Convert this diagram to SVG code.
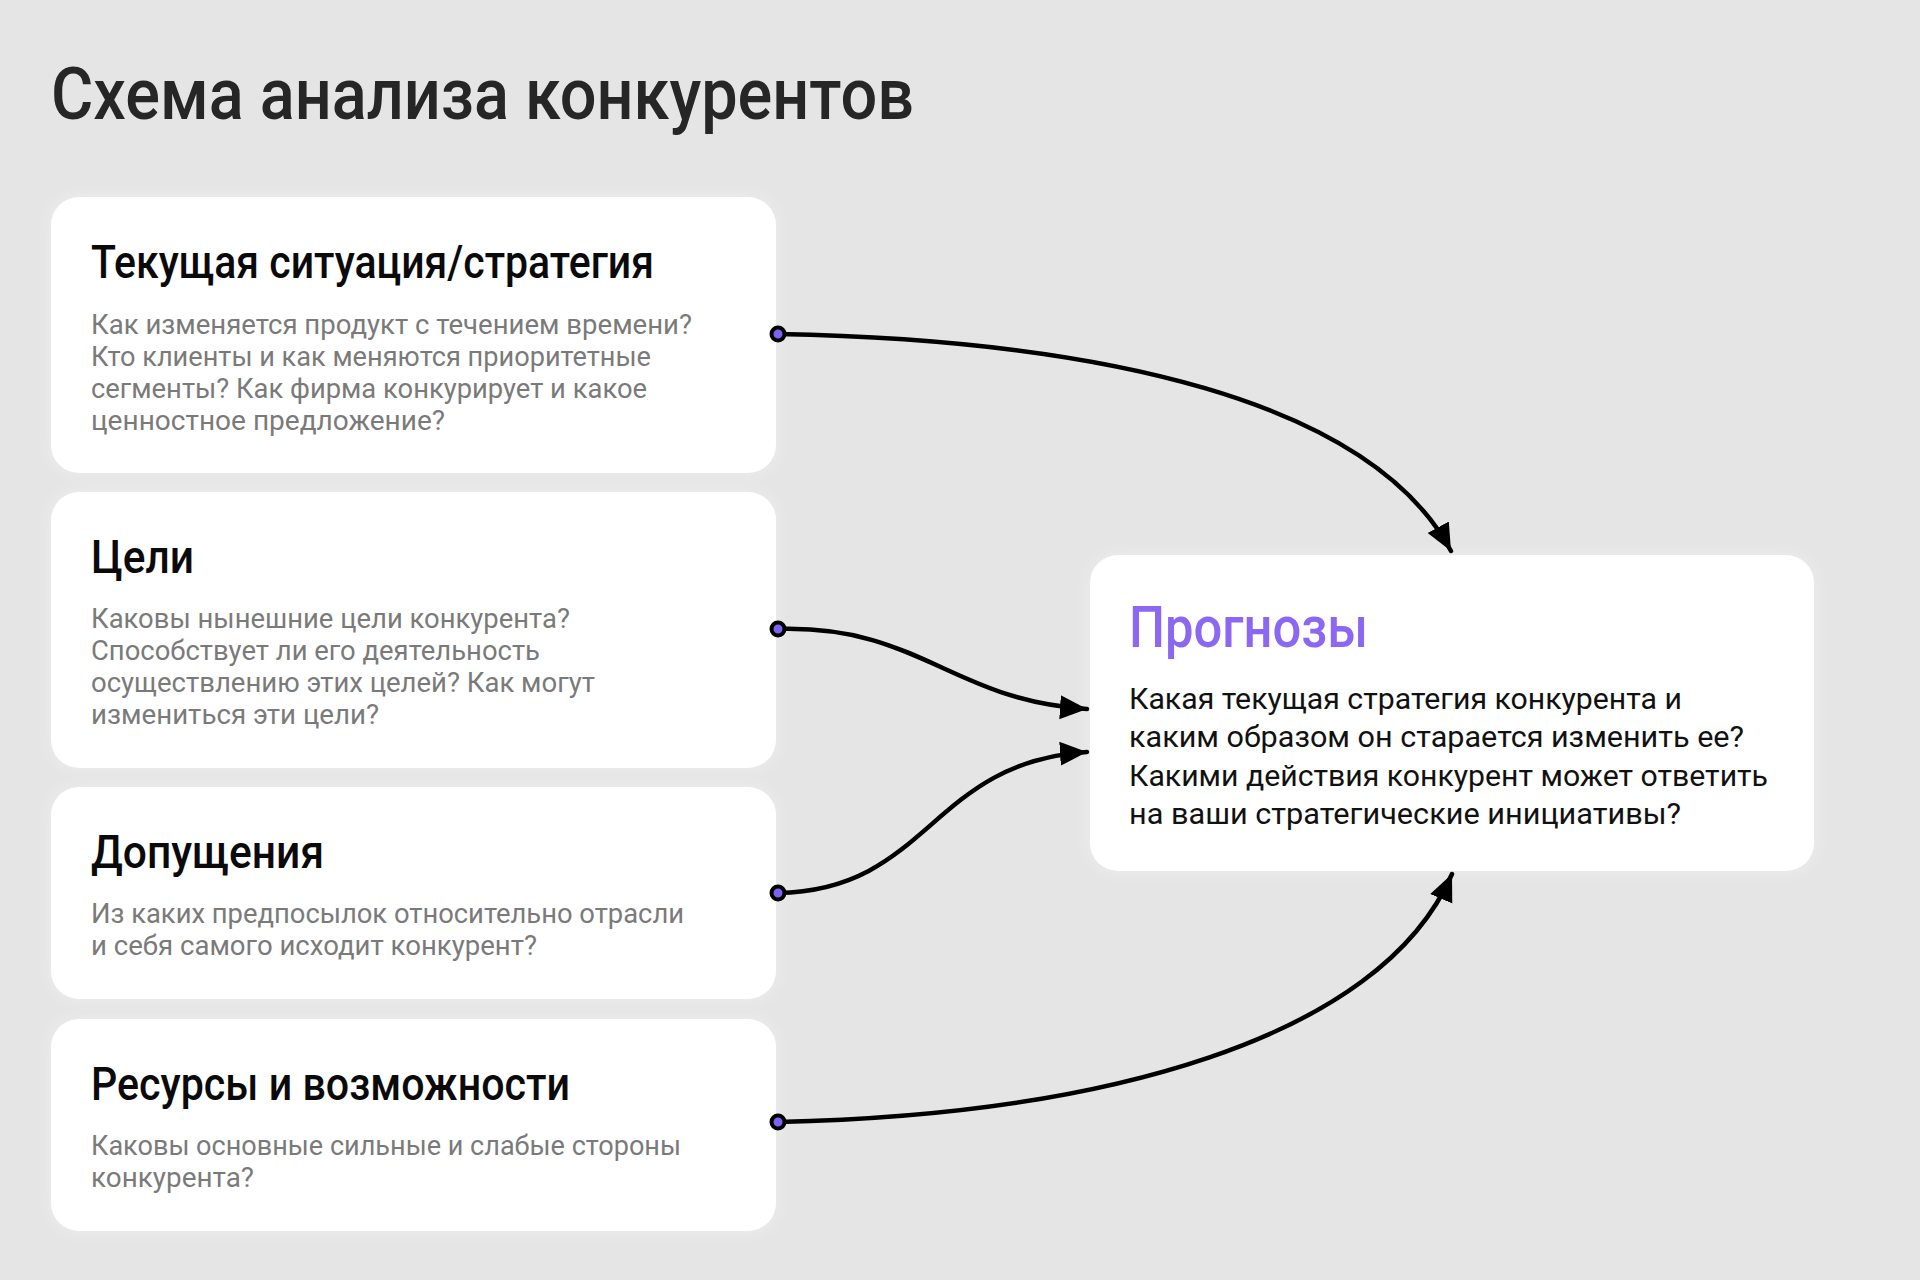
<svg xmlns="http://www.w3.org/2000/svg" width="1920" height="1280" viewBox="0 0 1920 1280">
<style>
.bg{fill:#e5e5e5}
.card{fill:#ffffff}
.title{font-family:"Roboto","Liberation Sans",sans-serif;font-size:72px;font-weight:500;fill:#262626}
.h{font-family:"Roboto","Liberation Sans",sans-serif;font-size:46px;font-weight:500;fill:#0a0a0a}
.b{font-family:"Roboto","Liberation Sans",sans-serif;font-size:28px;font-weight:400;fill:#7a7a7a}
.ph{font-family:"Roboto","Liberation Sans",sans-serif;font-size:57px;font-weight:500;fill:#8b67f2}
.pb{font-family:"Roboto","Liberation Sans",sans-serif;font-size:30px;font-weight:400;fill:#111111}
.edge{fill:none;stroke:#000;stroke-width:4.5;stroke-linecap:round}
.dot{fill:#7f63f0;stroke:#000;stroke-width:4}
</style>
<defs>
<filter id="glow" x="-10%" y="-10%" width="120%" height="120%">
<feGaussianBlur in="SourceAlpha" stdDeviation="8"/>
<feComponentTransfer><feFuncA type="linear" slope="0.35"/></feComponentTransfer>
<feColorMatrix type="matrix" values="0 0 0 0 1  0 0 0 0 1  0 0 0 0 1  0 0 0 1 0"/>
<feMerge><feMergeNode/><feMergeNode in="SourceGraphic"/></feMerge>
</filter>
<marker id="arr" markerUnits="userSpaceOnUse" markerWidth="30" markerHeight="26" refX="27" refY="12" orient="auto">
<path d="M0,0 L27,12 L0,24 z" fill="#000"/>
</marker>
</defs>
<rect class="bg" x="0" y="0" width="1920" height="1280"/>
<text class="title" x="51" y="119" textLength="863" lengthAdjust="spacingAndGlyphs">Схема анализа конкурентов</text>

<g id="node-current">
<rect class="card" filter="url(#glow)" x="51" y="197" width="725" height="276" rx="28"/>
<text class="h" x="91" y="278" textLength="563" lengthAdjust="spacingAndGlyphs">Текущая ситуация/стратегия</text>
<text class="b" x="91" y="334" textLength="601" lengthAdjust="spacingAndGlyphs">Как изменяется продукт с течением времени?</text>
<text class="b" x="91" y="366" textLength="560" lengthAdjust="spacingAndGlyphs">Кто клиенты и как меняются приоритетные</text>
<text class="b" x="91" y="398" textLength="556" lengthAdjust="spacingAndGlyphs">сегменты? Как фирма конкурирует и какое</text>
<text class="b" x="91" y="430" textLength="354" lengthAdjust="spacingAndGlyphs">ценностное предложение?</text>
</g>

<g id="node-goals">
<rect class="card" filter="url(#glow)" x="51" y="492" width="725" height="276" rx="28"/>
<text class="h" x="91" y="573" textLength="103" lengthAdjust="spacingAndGlyphs">Цели</text>
<text class="b" x="91" y="628" textLength="479" lengthAdjust="spacingAndGlyphs">Каковы нынешние цели конкурента?</text>
<text class="b" x="91" y="660" textLength="449" lengthAdjust="spacingAndGlyphs">Способствует ли его деятельность</text>
<text class="b" x="91" y="692" textLength="504" lengthAdjust="spacingAndGlyphs">осуществлению этих целей? Как могут</text>
<text class="b" x="91" y="724" textLength="288" lengthAdjust="spacingAndGlyphs">измениться эти цели?</text>
</g>

<g id="node-assumptions">
<rect class="card" filter="url(#glow)" x="51" y="787" width="725" height="212" rx="28"/>
<text class="h" x="91" y="868" textLength="233" lengthAdjust="spacingAndGlyphs">Допущения</text>
<text class="b" x="91" y="923" textLength="593" lengthAdjust="spacingAndGlyphs">Из каких предпосылок относительно отрасли</text>
<text class="b" x="91" y="955" textLength="446" lengthAdjust="spacingAndGlyphs">и себя самого исходит конкурент?</text>
</g>

<g id="node-resources">
<rect class="card" filter="url(#glow)" x="51" y="1019" width="725" height="212" rx="28"/>
<text class="h" x="91" y="1100" textLength="479" lengthAdjust="spacingAndGlyphs">Ресурсы и возможности</text>
<text class="b" x="91" y="1155" textLength="590" lengthAdjust="spacingAndGlyphs">Каковы основные сильные и слабые стороны</text>
<text class="b" x="91" y="1187" textLength="163" lengthAdjust="spacingAndGlyphs">конкурента?</text>
</g>

<g id="node-forecasts">
<rect class="card" filter="url(#glow)" x="1090" y="555" width="724" height="316" rx="28"/>
<text class="ph" x="1129" y="647" textLength="239" lengthAdjust="spacingAndGlyphs">Прогнозы</text>
<text class="pb" x="1129" y="709" textLength="553" lengthAdjust="spacingAndGlyphs">Какая текущая стратегия конкурента и</text>
<text class="pb" x="1129" y="747" textLength="615" lengthAdjust="spacingAndGlyphs">каким образом он старается изменить ее?</text>
<text class="pb" x="1129" y="786" textLength="639" lengthAdjust="spacingAndGlyphs">Какими действия конкурент может ответить</text>
<text class="pb" x="1129" y="824" textLength="552" lengthAdjust="spacingAndGlyphs">на ваши стратегические инициативы?</text>
</g>

<g id="connectors">
<path class="edge" marker-end="url(#arr)" d="M778,334 C1100,340 1370,400 1451,551"/>
<path class="edge" marker-end="url(#arr)" d="M778,629 C920,625 950,700 1087,709"/>
<path class="edge" marker-end="url(#arr)" d="M778,893 C930,890 930,762 1087,752"/>
<path class="edge" marker-end="url(#arr)" d="M778,1122 C1100,1115 1380,1040 1452,874"/>
<circle class="dot" cx="778" cy="334" r="6.5"/>
<circle class="dot" cx="778" cy="629" r="6.5"/>
<circle class="dot" cx="778" cy="893" r="6.5"/>
<circle class="dot" cx="778" cy="1122" r="6.5"/>
</g>
</svg>
